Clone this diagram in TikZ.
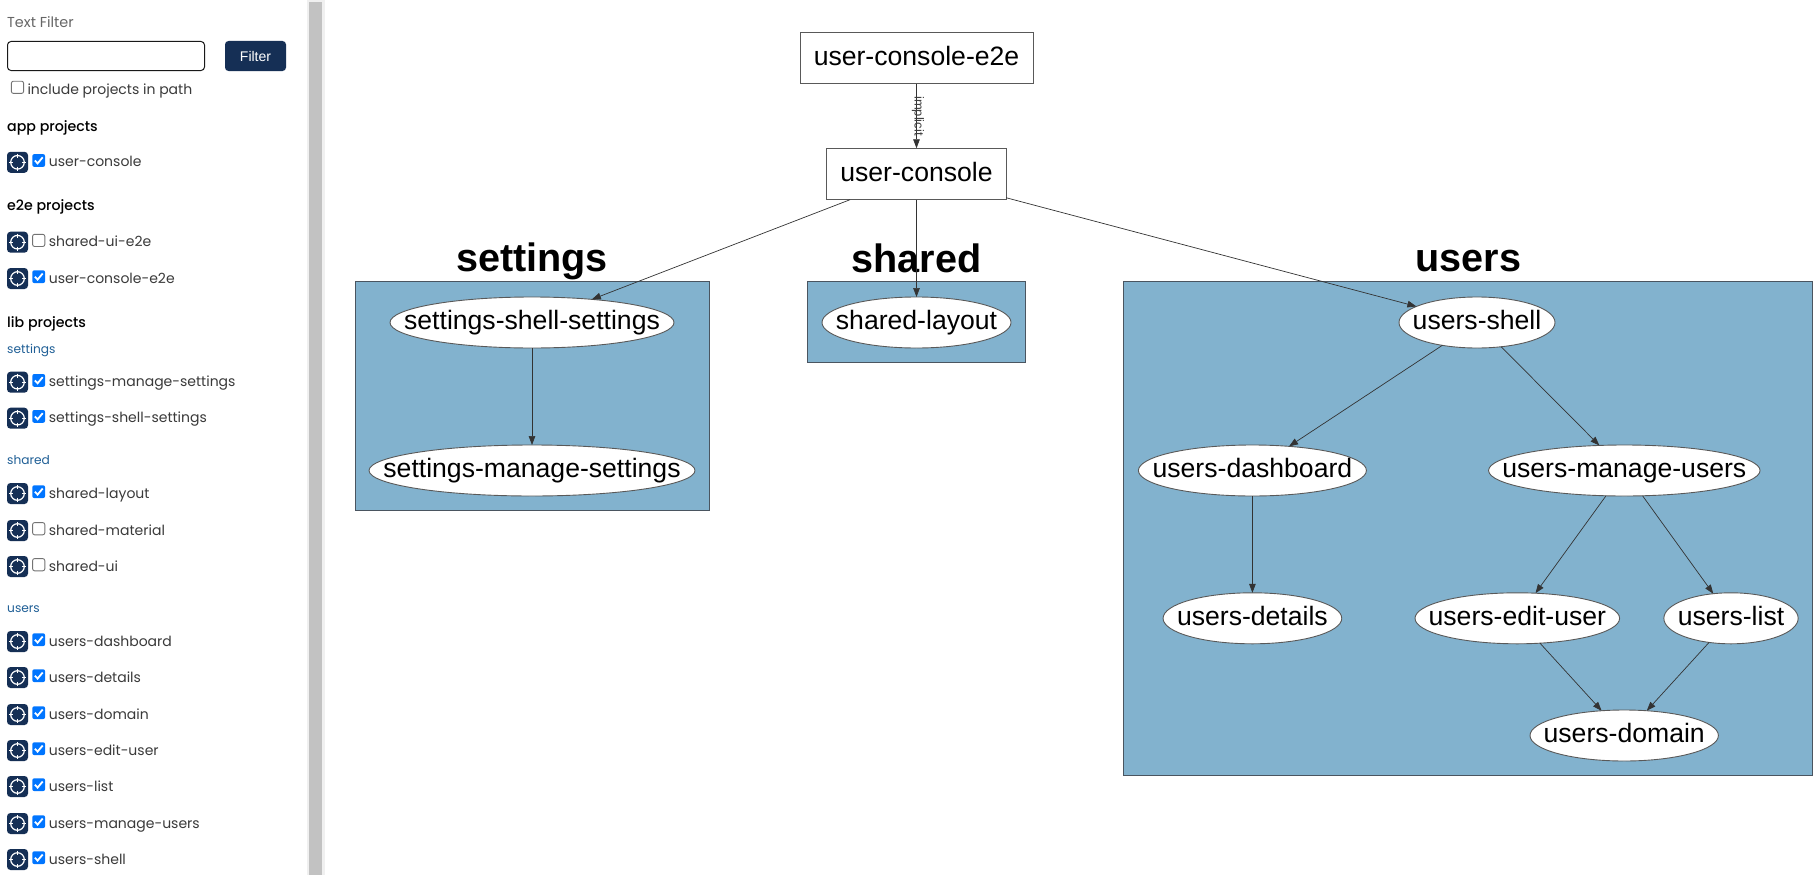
\documentclass[tikz,border=0pt]{standalone}
\usepackage{fontspec}
\setmainfont{Liberation Sans}
\newfontfamily\sidefont{Poppins}
\newfontfamily\sidefontb{Poppins Medium}
\usetikzlibrary{shapes.geometric,arrows.meta}
\definecolor{navy}{HTML}{152F55}
\definecolor{clusterfill}{HTML}{82B2CE}
\definecolor{edgegray}{HTML}{4A5560}
\definecolor{sidetext}{HTML}{3A3A3A}
\definecolor{grouptext}{HTML}{1F5F96}
\definecolor{tickblue}{HTML}{0075FF}
\newcommand{\gtext}[1]{\makebox[0pt]{\raisebox{-7.3pt}[0pt][0pt]{\fontsize{26.6}{30}\selectfont #1}}}
\newcommand{\projrow}[4]{% name, y, 1 = checked, text
  \node[icon] (#1-icon) at (17.5,#2) {};
  \draw[white,line width=1.2pt] (17.5,#2) circle (6.8pt);
  \draw[white,line width=1.1pt] (17.5,#2-8.6) -- (17.5,#2-4.4) (17.5,#2+4.4) -- (17.5,#2+8.6) (8.9,#2) -- (13.1,#2) (21.9,#2) -- (26.1,#2);
  \ifnum#3=1
    \node[boxon] (#1-box) at (38.7,#2-1.8) {};
    \draw[white,line width=1.8pt] (34.9,#2-1.8) -- (37.6,#2+1.1) -- (42.7,#2-5);
  \else
    \node[boxoff] (#1-box) at (38.7,#2-1.8) {};
  \fi
  \node[sidelabel] (#1-text) at (48.7,#2+4.6) {#4};
}
\begin{document}
\begin{tikzpicture}[x=1pt,y=-1pt,
  cluster/.style={draw=edgegray,fill=clusterfill,line width=0.9pt},
  proj/.style={draw=black!65,fill=white,line width=0.9pt,inner sep=0pt,outer sep=0pt,text=black},
  rectnode/.style={proj,rectangle,minimum width=#1,minimum height=51.5pt},
  ellnode/.style={proj,ellipse,minimum width=#1,minimum height=51pt},
  dep/.style={draw=black!80,line width=0.7pt,-{Triangle[length=9pt,width=6.6pt]}},
  title/.style={anchor=base,font=\fontsize{39.6}{44}\selectfont\bfseries,inner sep=0pt},
  sidelabel/.style={anchor=base west,inner sep=0pt,text=sidetext,font=\sidefont\fontsize{14.0}{16}\selectfont},
  sidehead/.style={anchor=base west,inner sep=0pt,text=black,font=\sidefontb\fontsize{14.2}{16}\selectfont},
  sidegroup/.style={anchor=base west,inner sep=0pt,text=grouptext,font=\sidefont\fontsize{12.2}{14}\selectfont},
  icon/.style={fill=navy,rounded corners=3.5pt,minimum size=21pt,inner sep=0pt},
  boxon/.style={fill=tickblue,rounded corners=2pt,minimum size=12.8pt,inner sep=0pt},
  boxoff/.style={draw=black!55,fill=white,line width=0.9pt,rounded corners=2pt,minimum size=12.2pt,inner sep=0pt}]
\useasboundingbox (0,0) rectangle (1814,875);
\fill[white] (0,0) rectangle (1814,875);
% sidebar scrollbar
\fill[black!6] (307,0) rectangle (325,875);
\fill[black!24] (309,2) rectangle (322,875);
% sidebar controls
\node[sidelabel,text=black!60,font=\sidefont\fontsize{14.4}{16}\selectfont] (filterlabel) at (7,27.7) {Text Filter};
\node[draw=black!90,line width=1pt,rounded corners=3.5pt,minimum width=197pt,minimum height=29pt,inner sep=0pt] (filterinput) at (106,56) {};
\node[fill=navy,rounded corners=3.5pt,minimum width=61pt,minimum height=30pt,inner sep=0pt,text=white,font=\fontsize{14}{16}\selectfont] (filterbutton) at (255.5,56) {Filter};
\node[boxoff] (pathbox) at (17.5,87.3) {};
\node[sidelabel] (pathlabel) at (27.3,94.3) {include projects in path};
\node[sidehead] (apphead) at (7,131) {app projects};
\projrow{p1}{162.3}{1}{user-console}
\node[sidehead] (e2ehead) at (7,210) {e2e projects};
\projrow{p2}{242.2}{0}{shared-ui-e2e}
\projrow{p3}{278.5}{1}{user-console-e2e}
\node[sidehead] (libhead) at (7,327.3) {lib projects};
\node[sidegroup] (g1) at (7,353.3) {settings};
\projrow{p4}{382.2}{1}{settings-manage-settings}
\projrow{p5}{418.2}{1}{settings-shell-settings}
\node[sidegroup] (g2) at (7,464) {shared};
\projrow{p6}{493.5}{1}{shared-layout}
\projrow{p7}{530.5}{0}{shared-material}
\projrow{p8}{566.5}{0}{shared-ui}
\node[sidegroup] (g3) at (7,612) {users};
\projrow{p9}{641.5}{1}{users-dashboard}
\projrow{p10}{677.5}{1}{users-details}
\projrow{p11}{714.5}{1}{users-domain}
\projrow{p12}{750.5}{1}{users-edit-user}
\projrow{p13}{786.5}{1}{users-list}
\projrow{p14}{823.5}{1}{users-manage-users}
\projrow{p15}{859.5}{1}{users-shell}
% clusters
\draw[cluster] (355,281.6) rectangle (709,510.2);
\draw[cluster] (807.7,281.6) rectangle (1025,362.6);
\draw[cluster] (1123.5,281.6) rectangle (1812.7,775.2);
\node[title] (tsettings) at (532,271.7) {settings};
\node[title] (tshared) at (916.5,272) {shared};
\node[title] (tusers) at (1468.4,271.7) {users};
% project nodes
\node[rectnode=233pt] (e2e) at (916.5,57.8) {\gtext{user-console-e2e}};
\node[rectnode=179.3pt] (console) at (916.5,174) {\gtext{user-console}};
\node[ellnode=284pt] (sshell) at (532,322.5) {\gtext{settings-shell-settings}};
\node[ellnode=326pt] (smanage) at (532,470.5) {\gtext{settings-manage-settings}};
\node[ellnode=189pt] (layout) at (916.5,322.5) {\gtext{shared-layout}};
\node[ellnode=156pt] (ushell) at (1477,322.5) {\gtext{users-shell}};
\node[ellnode=228pt] (dash) at (1252.4,470.5) {\gtext{users-dashboard}};
\node[ellnode=271.5pt] (umanage) at (1624.3,470.5) {\gtext{users-manage-users}};
\node[ellnode=178.7pt] (details) at (1252.4,618.3) {\gtext{users-details}};
\node[ellnode=204.6pt] (edit) at (1517.3,618.3) {\gtext{users-edit-user}};
\node[ellnode=134.3pt] (list) at (1731,618.3) {\gtext{users-list}};
\node[ellnode=188.4pt] (domain) at (1624.2,735.5) {\gtext{users-domain}};
% connectors
\draw[dep] (e2e) -- (console);
\node[rotate=-90,inner sep=0pt,font=\fontsize{13}{15}\selectfont,text=black!75] (implicit) at (918,116) {implicit};
\draw[dep] (console) -- (sshell);
\draw[dep] (console) -- (layout);
\draw[dep] (console) -- (ushell);
\draw[dep] (sshell) -- (smanage);
\draw[dep] (ushell) -- (dash);
\draw[dep] (ushell) -- (umanage);
\draw[dep] (dash) -- (details);
\draw[dep] (umanage) -- (edit);
\draw[dep] (umanage) -- (list);
\draw[dep] (edit) -- (domain);
\draw[dep] (list) -- (domain);
\end{tikzpicture}
\end{document}
